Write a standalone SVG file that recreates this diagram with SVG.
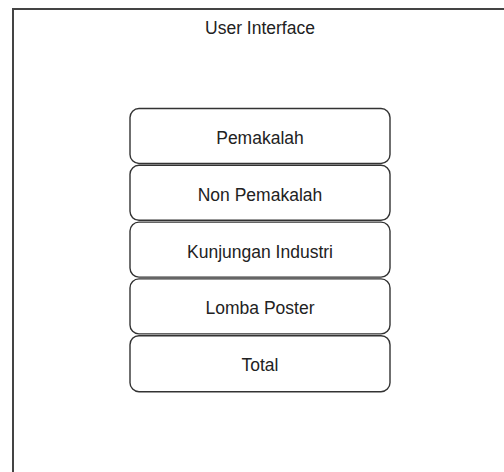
<svg xmlns="http://www.w3.org/2000/svg" width="504" height="472" viewBox="0 0 504 472">
<style>
.frame{fill:#fff;stroke:#444;stroke-width:2}
.box{fill:#fff;stroke:#333;stroke-width:1.4}
.lbl{font-family:"Liberation Sans",Arial,sans-serif;font-size:17.5px;fill:#222;text-anchor:middle}
</style>
<rect width="504" height="472" fill="#fff"/>
<g id="frame">
<rect class="frame" x="13" y="9" width="520" height="480"/>
<text class="lbl" x="260" y="34">User Interface</text>
</g>
<g id="connectors"></g>
<g id="pemakalah"><rect class="box" x="130" y="108.5" width="260" height="55" rx="9"/><text class="lbl" x="260" y="144">Pemakalah</text></g>
<g id="non-pemakalah"><rect class="box" x="130" y="165.3" width="260" height="55" rx="9"/><text class="lbl" x="260" y="200.8">Non Pemakalah</text></g>
<g id="kunjungan-industri"><rect class="box" x="130" y="222.1" width="260" height="55" rx="9"/><text class="lbl" x="260" y="257.6">Kunjungan Industri</text></g>
<g id="lomba-poster"><rect class="box" x="130" y="278.9" width="260" height="55" rx="9"/><text class="lbl" x="260" y="314.4">Lomba Poster</text></g>
<g id="total"><rect class="box" x="130" y="335.7" width="260" height="56" rx="9"/><text class="lbl" x="260" y="371.2">Total</text></g>
</svg>
